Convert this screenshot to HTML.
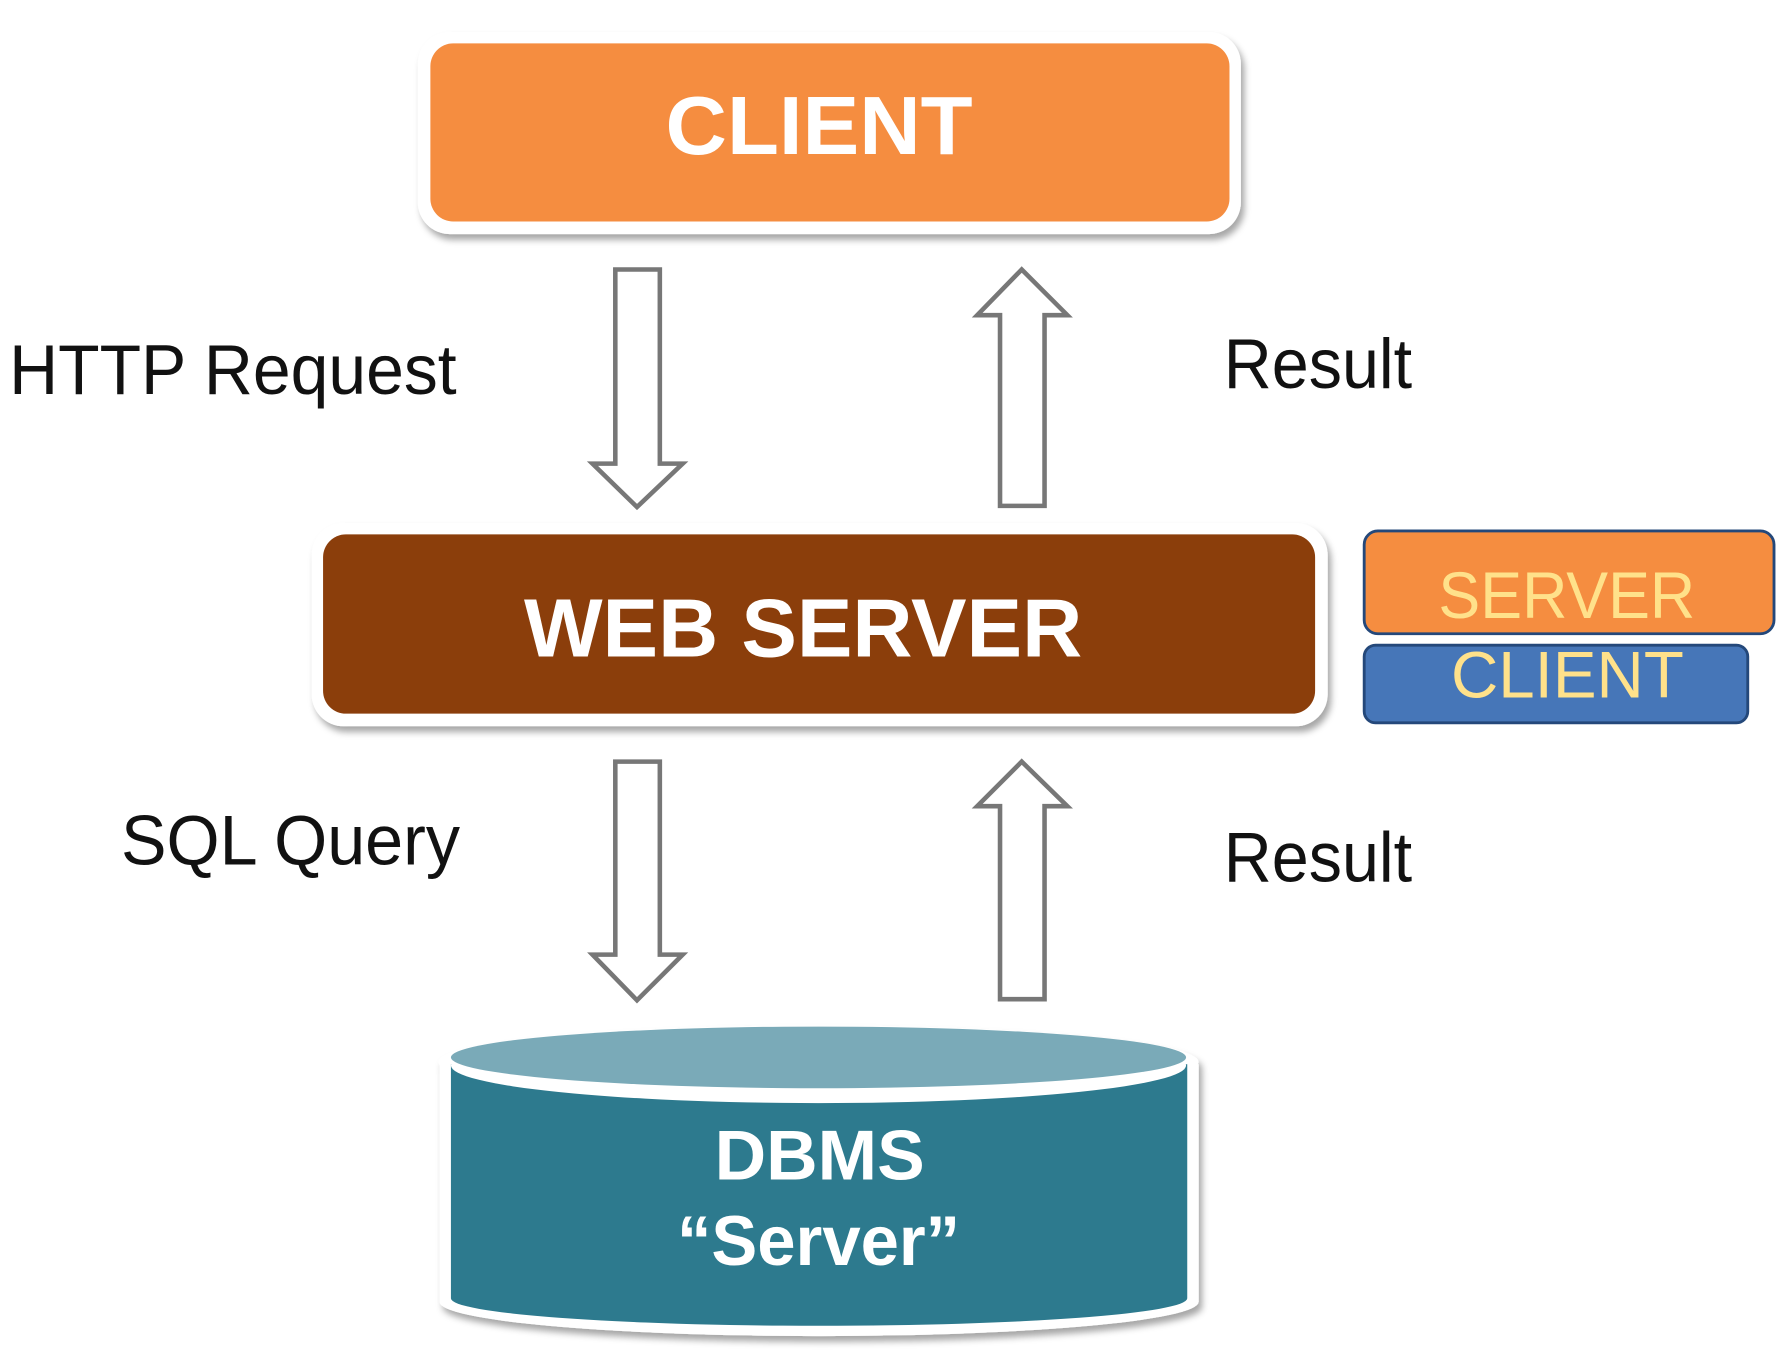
<!DOCTYPE html>
<html><head><meta charset="utf-8"><style>
html,body{margin:0;padding:0;background:#fff;width:1790px;height:1360px;overflow:hidden}
svg{display:block}
text{font-family:"Liberation Sans",Arial,sans-serif}
</style></head><body>
<svg width="1790" height="1360" viewBox="0 0 1568 1191" preserveAspectRatio="none" xmlns="http://www.w3.org/2000/svg">
<defs>
<filter id="sh" x="-5%" y="-10%" width="110%" height="130%"><feDropShadow dx="3" dy="5" stdDeviation="3" flood-color="#000" flood-opacity="0.35"/></filter>
</defs>
<rect x="366" y="28" width="721" height="177" rx="28" fill="#fff" filter="url(#sh)"/>
<rect x="377" y="38" width="700" height="156" rx="20" fill="#F58D40"/>
<text x="583" y="135" font-size="72" font-weight="bold" fill="#fff" textLength="269" lengthAdjust="spacingAndGlyphs">CLIENT</text>
<g fill="#fff" stroke="#777" stroke-width="4" stroke-linejoin="miter">
<polygon points="539,236 578,236 578,406 598,406 558,444 519,406 539,406"/>
<polygon points="876,443 915,443 915,276 935,276 895,236 856,276 876,276"/>
<polygon points="539,667 578,667 578,836 598,836 558,876 519,836 539,836"/>
<polygon points="876,875 915,875 915,706 935,706 895,667 856,706 876,706"/>
</g>
<text x="8" y="345" font-size="62" fill="#111" textLength="392" lengthAdjust="spacingAndGlyphs">HTTP Request</text>
<text x="1072" y="340" font-size="62" fill="#111" textLength="165" lengthAdjust="spacingAndGlyphs">Result</text>
<text x="106" y="757" font-size="62" fill="#111" textLength="297" lengthAdjust="spacingAndGlyphs">SQL Query</text>
<text x="1072" y="772" font-size="62" fill="#111" textLength="165" lengthAdjust="spacingAndGlyphs">Result</text>
<rect x="273" y="458" width="890" height="178" rx="28" fill="#fff" filter="url(#sh)"/>
<rect x="283" y="468" width="869" height="157" rx="20" fill="#8B3E0B"/>
<text x="459" y="575" font-size="72" font-weight="bold" fill="#fff" textLength="489" lengthAdjust="spacingAndGlyphs">WEB SERVER</text>
<rect x="1195" y="465" width="359" height="90" rx="12" fill="#F58D40" stroke="#24487A" stroke-width="2.5"/>
<text x="1260" y="541" font-size="58" fill="#FFE18A" textLength="225" lengthAdjust="spacingAndGlyphs">SERVER</text>
<rect x="1195" y="565" width="336" height="68" rx="10" fill="#4676B8" stroke="#24487A" stroke-width="2.5"/>
<text x="1271" y="611" font-size="58" fill="#FFE18A" textLength="204" lengthAdjust="spacingAndGlyphs">CLIENT</text>
<g filter="url(#sh)">
<path d="M385,932 L385,1140 A332,30 0 0 0 1050,1140 L1050,932 Z" fill="#fff"/>
<ellipse cx="717" cy="930" rx="333" ry="32" fill="#fff"/>
</g>
<path d="M395,932 L395,1137 A322,24 0 0 0 1040,1137 L1040,932 Z" fill="#2D7A8E"/>
<ellipse cx="717" cy="933" rx="322" ry="33" fill="#fff"/>
<ellipse cx="717" cy="926" rx="322" ry="27" fill="#7AAAB8"/>
<text x="626" y="1033" font-size="62" font-weight="bold" fill="#fff" textLength="184" lengthAdjust="spacingAndGlyphs">DBMS</text>
<text x="593" y="1108" font-size="62" font-weight="bold" fill="#fff" textLength="248" lengthAdjust="spacingAndGlyphs">“Server”</text>
</svg>
</body></html>
